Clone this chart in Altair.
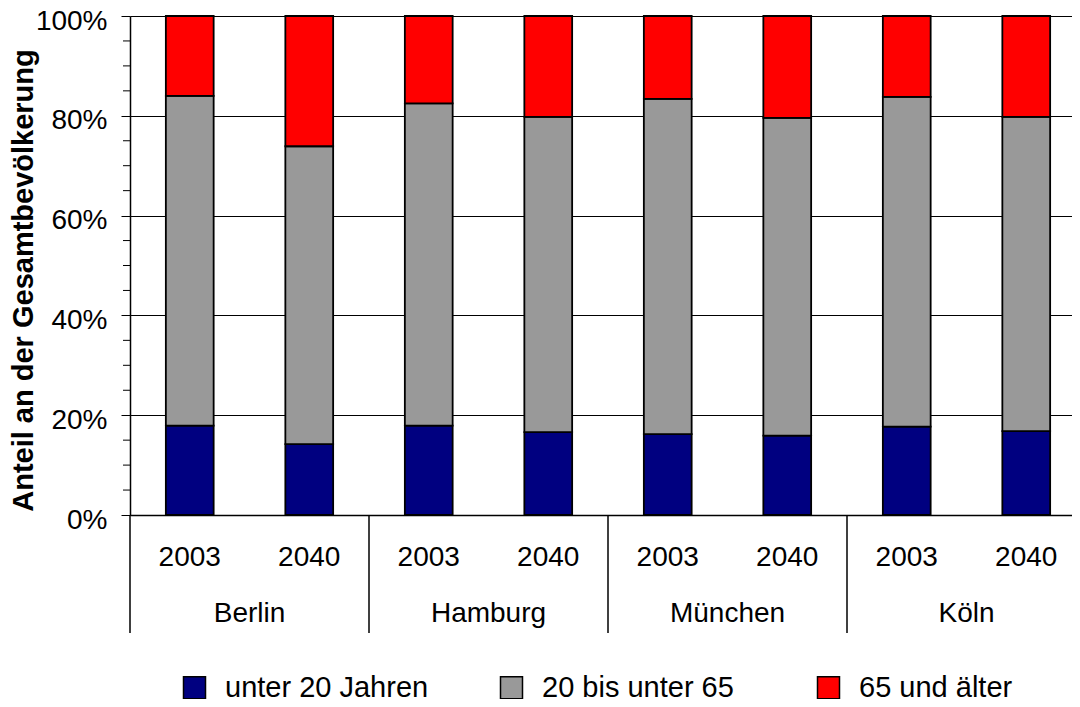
import altair as alt
import pandas as pd

cities = ["Berlin", "Hamburg", "München", "Köln"]
years = ["2003", "2040"]
groups = ["unter 20 Jahren", "20 bis unter 65", "65 und älter"]
# shares in percent, order: Berlin 2003, Berlin 2040, Hamburg 2003, ...
under20 = [17.9, 14.2, 17.9, 16.6, 16.2, 15.9, 17.7, 16.8]
mid = [66.1, 59.7, 64.6, 63.2, 67.2, 63.7, 66.1, 63.0]
old = [16.0, 26.1, 17.5, 20.2, 16.6, 20.4, 16.2, 20.2]
colors = ["#000080", "#999999", "#FF0000"]
y_ticks = [0, 20, 40, 60, 80, 100]
minor_ticks = [5, 10, 15, 25, 30, 35, 45, 50, 55, 65, 70, 75, 85, 90, 95]

keys = [f"{c}|{y}" for c in cities for y in years]
rows = []
for i, k in enumerate(keys):
    for j, (g, vals) in enumerate(zip(groups, [under20, mid, old])):
        rows.append({"key": k, "group": g, "value": vals[i], "ord": j})
df = pd.DataFrame(rows)

FONT = "Liberation Sans"
FS = 28
X_RANGE = [0, 956]

y_axis = alt.Axis(
    values=y_ticks,
    labelExpr="datum.value + '%'",
    title="Anteil an der Gesamtbevölkerung",
    titleFontSize=29,
    titleFontWeight="bold",
    titleColor="black",
    titleX=-107,
    titleY=264,
    titleAlign="center",
    titleBaseline="middle",
    titleAngle=270,
    labelFontSize=FS,
    labelColor="black",
    labelPadding=14,
    labelOffset=5,
    tickSize=9,
    tickColor="black",
    domainColor="black",
    domainWidth=1.5,
    grid=True,
    gridColor="black",
    gridOpacity=1,
    gridWidth=1.2,
)
y_scale = alt.Scale(domain=[0, 100], nice=False)

bars = alt.Chart(df).mark_bar(stroke="black", strokeWidth=1.8).encode(
    x=alt.X(
        "key:N",
        sort=keys,
        scale=alt.Scale(domain=keys, range=X_RANGE, paddingInner=0.6, paddingOuter=0.3),
        axis=alt.Axis(
            title=None,
            labelExpr="split(datum.label, '|')[1]",
            ticks=False,
            labelPadding=28,
            labelFontSize=FS,
            labelColor="black",
            labelAngle=0,
            domainColor="black",
            domainWidth=1.5,
            grid=False,
        ),
    ),
    y=alt.Y("value:Q", stack="zero", scale=y_scale, axis=y_axis),
    color=alt.Color(
        "group:N",
        scale=alt.Scale(domain=groups, range=colors),
        legend=alt.Legend(
            title=None,
            orient="none",
            direction="horizontal",
            legendX=50,
            legendY=657,
            symbolType="square",
            symbolSize=484,
            symbolStrokeColor="black",
            symbolStrokeWidth=1.5,
            symbolOpacity=1,
            labelFontSize=29,
            labelColor="black",
            labelOffset=16,
            labelLimit=400,
            gridAlign="all",
            columnPadding=68,
        ),
    ),
    order=alt.Order("ord:Q", sort="ascending"),
)

minor = alt.Chart(pd.DataFrame({"value": minor_ticks})).mark_rule(
    color="black", strokeWidth=1
).encode(
    y=alt.Y("value:Q", scale=y_scale, axis=y_axis),
    x=alt.value(-7),
    x2=alt.value(0),
)

city_scale = alt.Scale(domain=cities, range=X_RANGE, paddingInner=0, paddingOuter=0)

city_text = alt.Chart(pd.DataFrame({"city": cities})).mark_text(
    fontSize=FS, color="black", baseline="middle"
).encode(
    x=alt.X("city:N", sort=cities, scale=city_scale, axis=None),
    y=alt.value(598),
    text="city:N",
)

seps = alt.Chart(pd.DataFrame({"city": cities})).mark_rule(
    color="black", strokeWidth=1.5
).encode(
    x=alt.X("city:N", sort=cities, scale=city_scale, axis=None, bandPosition=0),
    y=alt.value(499),
    y2=alt.value(617),
)

chart = (
    alt.layer(bars, minor, city_text, seps)
    .resolve_scale(x="independent")
    .properties(
        width=942,
        height=499,
        autosize=alt.AutoSizeParams(type="none"),
        padding={"left": 122, "top": 8, "right": 0, "bottom": 184},
    )
    .configure(font=FONT)
    .configure_view(stroke=None)
)

chart.save("out.html", embed_options={"renderer": "svg", "actions": False})
